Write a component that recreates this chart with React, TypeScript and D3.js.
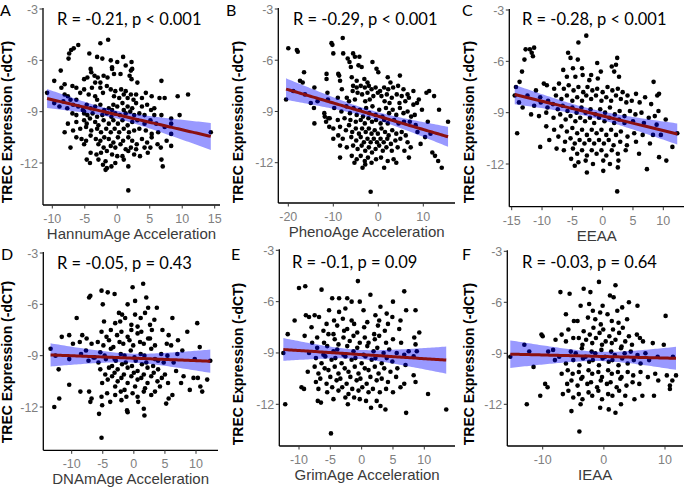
import React from 'react';
import * as d3 from 'd3';

type P = [number, number];

const yTicks = [-3, -6, -9, -12];
const panelLetters = ['A', 'B', 'C', 'D', 'E', 'F'];
const xTitles = ['HannumAge Acceleration', 'PhenoAge Acceleration', 'EEAA', 'DNAmAge Acceleration', 'GrimAge Acceleration', 'IEAA'];
const statLabels = ['R = -0.21, p < 0.001', 'R = -0.29, p < 0.001', 'R = -0.28, p < 0.001', 'R = -0.05, p = 0.43', 'R = -0.1, p = 0.09', 'R = -0.03, p = 0.64'];
const hannumTicks = [-10, -5, 0, 5, 10, 15];
const phenoTicks = [-20, -10, 0, 10];
const eeaaTicks = [-15, -10, -5, 0, 5, 10];
const dnamTicks = [-10, -5, 0, 5, 10];
const grimTicks = [-10, -5, 0, 5, 10];
const ieaaTicks = [-10, 0, 10];

const hannumPoints: P[] = [
  [-1.4,-4.8],[-2.6,-5.0],[-6.0,-5.1],[-6.7,-5.3],[-7.1,-5.4],[-7.4,-5.6],
  [-4.3,-5.6],[-7.5,-5.9],[0.9,-5.8],[-3.1,-5.8],[-2.3,-5.9],[-1.0,-6.0],[0.0,-6.1],[2.2,-6.1],[1.3,-6.3],[-0.8,-6.4],
  [-8.7,-6.6],[-4.1,-6.5],[-0.8,-6.5],[2.1,-6.6],[2.3,-6.5],[-4.0,-6.7],[-3.5,-6.9],[-3.0,-7.0],[-2.1,-6.9],[-1.5,-7.0],[-5.1,-7.1],[-4.6,-7.0],[-9.7,-7.2],[1.9,-6.9],[0.5,-6.8],[-0.5,-6.8],[6.8,-7.2],[2.2,-7.1],[3.1,-7.3],[-3.4,-7.3],[-2.6,-7.3],
  [-8.1,-7.4],[-6.9,-7.5],[-6.3,-7.6],[-5.1,-7.7],[-3.9,-7.6],[-2.6,-7.6],[-1.6,-7.5],[-1.0,-7.7],[-0.3,-7.8],[0.6,-7.7],[1.3,-7.8],[2.1,-8.0],[2.9,-8.0],[4.4,-7.9],[5.3,-8.1],[6.5,-8.2],[7.3,-8.2],[9.3,-8.1],[10.9,-8.0],[-10.8,-7.9],[-8.6,-7.6],[-8.1,-8.0],[-7.6,-8.1],[-5.7,-7.9],[-4.4,-8.0],[-3.4,-8.1],[-2.2,-7.9],[-0.5,-8.1],[0.3,-8.2],[1.0,-8.0],[1.6,-8.2],[2.5,-8.3],[3.8,-8.2],[-7.2,-8.3],[-6.3,-8.3],[-3.1,-8.3],
  [-9.7,-8.5],[-8.9,-8.7],[-8.3,-8.4],[-7.7,-8.8],[-6.8,-8.6],[-6.0,-8.7],[-5.3,-8.9],[-4.7,-8.6],[-4.1,-8.8],[-3.4,-8.7],[-2.6,-8.6],[-2.0,-8.9],[-1.3,-8.8],[-0.6,-8.6],[0.0,-8.7],[0.8,-8.5],[1.6,-8.7],[2.3,-8.8],[2.9,-8.5],[3.8,-8.7],[4.6,-8.6],[5.2,-8.9],[5.7,-8.8],[-6.9,-9.1],[-6.3,-9.2],[-5.1,-9.1],[-4.6,-9.2],[-3.8,-9.1],[-3.1,-9.3],[-2.3,-9.2],[-1.6,-9.1],[-0.9,-9.3],[-0.3,-9.1],[0.4,-9.2],[1.3,-9.1],[2.0,-9.0],[2.6,-9.2],[3.4,-9.1],[4.2,-9.2],[5.7,-9.2],[6.8,-9.2],[8.3,-9.4],[9.6,-9.2],[-5.1,-9.0],[-0.8,-8.9],[1.0,-8.9],
  [-7.6,-9.7],[-6.3,-9.6],[-5.1,-9.5],[-4.2,-9.4],[-3.4,-9.6],[-2.9,-9.8],[-2.1,-9.5],[-1.3,-9.7],[-0.6,-9.5],[0.1,-9.7],[0.8,-9.5],[1.6,-9.8],[2.3,-9.6],[3.1,-9.5],[4.2,-9.7],[5.1,-9.5],[6.0,-9.7],[7.3,-9.9],[8.3,-9.7],[-8.1,-10.2],[-6.8,-10.1],[-5.7,-10.0],[-4.8,-9.9],[-4.0,-10.1],[-3.1,-10.0],[-2.5,-10.2],[-1.7,-10.0],[-1.0,-10.2],[-0.4,-10.0],[0.3,-10.2],[1.0,-10.0],[1.8,-10.2],[2.6,-10.1],[3.4,-10.0],[4.4,-10.1],[5.3,-10.3],[6.3,-10.2],[8.3,-10.3],[14.4,-10.2],[-4.7,-9.7],
  [-6.3,-10.5],[-5.5,-10.6],[-4.8,-10.7],[-4.1,-10.4],[-3.3,-10.6],[-2.6,-10.7],[-2.0,-10.5],[-1.3,-10.6],[-0.6,-10.8],[0.1,-10.5],[0.9,-10.7],[1.7,-10.5],[2.3,-10.7],[3.0,-10.9],[3.8,-10.6],[4.6,-10.8],[5.3,-10.5],[6.2,-10.9],[7.6,-10.7],[8.3,-11.0],[-7.2,-11.1],[-5.1,-10.9],[-2.9,-10.9],[-2.1,-11.1],[-1.0,-11.0],[-0.3,-11.1],[0.5,-10.9],[1.3,-11.2],[2.1,-11.1],[2.9,-11.2],[4.2,-11.1],[5.1,-11.1],[6.7,-11.1],
  [-4.1,-11.4],[-3.2,-11.5],[-2.5,-11.4],[-1.6,-11.3],[-0.8,-11.5],[0.0,-11.6],[0.8,-11.6],[1.7,-11.3],[2.6,-11.5],[3.5,-11.6],[4.7,-11.4],[-4.7,-11.8],[-2.9,-11.8],[-1.8,-11.9],[-0.3,-12.0],[1.0,-11.8],[6.8,-11.8],[7.0,-12.2],[-4.2,-12.0],[-2.2,-12.1],[-0.9,-12.2],
  [-1.8,-12.4],[-1.6,-12.3],[1.7,-12.2],[1.7,-13.6],
];

const phenoPoints: P[] = [
  [-20.0,-5.3],[-18.1,-5.4],[-17.9,-5.5],[-10.4,-5.0],[-10.2,-5.1],[-7.9,-4.7],[-10.0,-5.6],[-7.8,-5.6],[-5.6,-5.6],[-5.2,-5.8],[-6.8,-5.9],[-4.2,-5.8],[-6.4,-6.1],[-1.3,-6.1],[-6.1,-6.4],[-4.4,-6.3],[-3.7,-6.4],[-0.4,-6.5],[0.0,-6.7],[4.8,-6.9],[-16.5,-6.7],[-11.5,-6.8],[-8.9,-6.8],[-8.7,-6.9],[-8.5,-7.2],[-5.9,-7.0],[-4.8,-7.2],[-3.1,-7.1],[-2.4,-7.3],[2.1,-7.0],[2.7,-7.3],[-11.5,-7.1],[-17.4,-7.2],
  [-5.6,-7.5],[-4.8,-7.6],[-3.9,-7.5],[-3.0,-7.6],[-2.1,-7.5],[-1.5,-7.7],[-0.6,-7.6],[0.4,-7.8],[1.3,-7.6],[2.2,-7.7],[3.3,-7.6],[4.4,-7.5],[5.6,-7.7],[6.5,-8.0],[7.8,-7.8],[10.7,-7.9],[-5.7,-7.8],[-4.6,-7.9],[-3.6,-8.0],[-2.4,-7.9],[-1.1,-8.1],[-0.1,-7.9],[0.7,-8.1],[1.9,-8.0],[3.0,-8.2],[4.1,-8.0],[5.2,-8.1],[6.8,-8.2],[9.0,-8.3],[11.3,-7.8],[-8.1,-7.7],[-11.3,-7.9],[-14.2,-7.6],
  [-20.5,-8.3],[-18.9,-7.8],[-16.3,-8.0],[-15.0,-8.5],[-16.8,-7.3],[-13.5,-8.4],[-11.2,-8.3],[-9.0,-8.2],[-7.0,-8.2],[-6.5,-8.4],[-5.2,-8.3],[-2.9,-8.4],[-1.9,-8.3],[1.4,-8.4],[2.5,-8.5],[4.7,-8.5],[6.0,-8.4],[7.8,-8.6],[8.6,-8.5],[12.4,-8.1],
  [-14.3,-8.8],[-12.0,-9.1],[-9.8,-8.8],[-8.2,-9.0],[-7.1,-8.7],[-6.3,-9.1],[-5.5,-8.8],[-4.8,-9.2],[-4.1,-8.9],[-3.4,-9.3],[-2.7,-8.8],[-2.0,-9.1],[-1.3,-8.7],[-0.6,-9.2],[0.2,-8.9],[0.9,-9.3],[1.7,-8.8],[2.4,-9.1],[3.2,-8.9],[4.0,-9.2],[4.8,-8.8],[5.6,-9.1],[6.5,-9.0],[7.3,-9.3],[8.1,-9.2],[9.7,-8.9],[13.5,-8.9],[15.5,-9.6],[-10.8,-9.4],[-9.0,-9.5],[-7.5,-9.4],[-6.2,-9.5],[-5.0,-9.6],[-3.9,-9.5],[-3.0,-9.7],[-2.2,-9.4],[-1.4,-9.6],[-0.5,-9.5],[0.5,-9.7],[1.3,-9.5],[2.1,-9.7],[3.5,-9.5],[4.5,-9.7],[5.7,-9.6],[7.0,-9.6],[8.3,-9.8],[11.0,-9.6],
  [-14.2,-9.7],[-11.9,-9.3],[-11.6,-9.6],[-11.1,-9.4],[-10.9,-9.9],[-10.0,-10.0],[-8.5,-9.9],[-7.2,-10.1],[-6.5,-9.8],[-5.8,-10.2],[-5.0,-10.0],[-4.3,-10.3],[-3.6,-10.0],[-2.8,-10.2],[-2.1,-10.0],[-1.5,-10.3],[-0.8,-10.1],[-0.1,-10.3],[0.7,-10.0],[1.5,-10.2],[2.3,-10.4],[3.1,-10.1],[4.0,-10.3],[5.2,-10.2],[6.1,-10.4],[8.7,-10.2],[10.4,-10.5],[11.6,-10.3],[-10.0,-10.6],[-8.9,-10.4],[-7.9,-10.6],[-6.0,-10.5],[-4.9,-10.7],[-3.9,-10.5],[-3.2,-10.8],[-2.4,-10.6],[-1.7,-10.8],[-1.0,-10.6],[-0.3,-10.8],[0.5,-10.6],[1.2,-10.8],[2.0,-10.6],[2.8,-10.9],[3.8,-10.7],[4.9,-10.6],[6.5,-10.8],[9.4,-10.9],
  [-8.5,-11.0],[-7.0,-11.1],[-5.6,-11.0],[-4.6,-11.2],[-3.7,-11.0],[-2.9,-11.3],[-2.1,-11.1],[-1.4,-11.4],[-0.6,-11.2],[0.2,-11.0],[1.0,-11.3],[1.8,-11.1],[3.0,-11.3],[4.3,-11.1],[5.8,-11.3],[7.2,-11.1],[12.0,-11.4],[12.6,-11.6],[-8.5,-11.7],[-5.9,-11.6],[-4.8,-11.8],[-3.9,-11.6],[-3.0,-11.9],[-2.3,-11.7],[-1.5,-12.0],[-0.5,-11.8],[0.6,-11.7],[2.1,-11.9],[3.4,-11.8],[6.8,-11.7],[13.3,-11.9],[-5.3,-12.0],[-3.5,-12.3],[-2.9,-12.1],[1.3,-12.3],[4.0,-12.0],[14.1,-12.3],[-1.7,-13.7],
];

const eeaaPoints: P[] = [
  [-12.7,-5.3],[-12.0,-5.3],[-11.7,-5.5],[-11.3,-5.2],[-11.5,-5.7],[-12.9,-5.9],[-2.7,-4.5],[-4.0,-4.9],[-5.7,-5.5],[-5.3,-5.8],[-4.1,-5.9],[2.4,-5.8],[-0.9,-6.1],[-13.3,-6.6],[-6.5,-6.5],[-4.9,-6.4],[-3.4,-6.4],[-3.3,-6.8],[-1.9,-6.8],[1.5,-6.3],[2.2,-6.2],[1.9,-6.6],[-0.3,-6.6],[-4.5,-6.9],[-2.2,-7.1],[-0.8,-7.0],[-5.9,-6.9],[-9.7,-7.3],[-13.7,-7.2],[2.7,-6.9],[8.4,-7.2],[9.3,-7.9],
  [-14.3,-7.5],[-11.0,-7.7],[-9.2,-7.4],[-8.0,-7.6],[-7.2,-7.3],[-6.4,-7.6],[-5.6,-7.4],[-4.8,-7.7],[-4.0,-7.5],[-3.2,-7.8],[-2.5,-7.5],[-1.7,-7.7],[-0.9,-7.6],[0.0,-7.8],[0.8,-7.5],[1.6,-7.7],[2.5,-7.6],[3.3,-7.8],[4.1,-8.0],[5.5,-7.9],[7.0,-8.1],[9.0,-8.0],[-12.4,-8.0],[-10.3,-8.1],[-9.0,-8.3],[-7.7,-8.0],[-6.8,-8.2],[-5.9,-8.0],[-5.0,-8.3],[-4.2,-8.1],[-3.4,-8.3],[-2.7,-8.0],[-1.9,-8.2],[-1.1,-8.0],[-0.2,-8.3],[0.6,-8.1],[1.4,-8.3],[2.2,-8.0],[3.0,-8.2],[3.9,-8.4],[4.8,-8.3],[6.1,-8.4],[8.0,-8.5],
  [-14.5,-8.0],[-13.8,-8.4],[-13.2,-8.7],[-11.3,-8.6],[-10.2,-8.4],[-9.1,-8.7],[-8.2,-8.5],[-7.4,-8.8],[-6.6,-8.6],[-5.8,-8.9],[-5.0,-8.7],[-4.3,-9.0],[-3.5,-8.7],[-2.8,-9.0],[-2.0,-8.8],[-1.2,-9.1],[-0.4,-8.8],[0.4,-9.0],[1.2,-8.7],[2.0,-9.1],[2.8,-8.9],[3.6,-9.2],[4.5,-8.9],[5.4,-9.1],[6.4,-9.0],[7.6,-9.3],[8.6,-9.2],[9.2,-8.9],[10.4,-9.4],[-11.8,-9.1],[-10.5,-9.2],[-9.3,-9.0],[-8.1,-9.3],[-7.0,-9.1],[-6.1,-9.4],[-5.3,-9.2],[-4.5,-9.5],[-3.7,-9.3],[-2.9,-9.5],[-2.1,-9.3],[-1.4,-9.6],[-0.6,-9.3],[0.3,-9.5],[1.1,-9.3],[1.9,-9.6],[2.7,-9.4],[3.6,-9.6],[5.0,-9.5],[6.8,-9.6],[8.9,-9.7],
  [-14.1,-10.2],[-9.3,-9.8],[-8.0,-10.0],[-6.8,-9.8],[-5.9,-10.1],[-5.0,-9.9],[-4.2,-10.2],[-3.4,-10.0],[-2.6,-10.3],[-1.8,-10.0],[-1.0,-10.2],[-0.2,-10.0],[0.6,-10.3],[1.4,-10.0],[2.2,-10.3],[3.0,-10.1],[4.1,-10.4],[5.2,-10.2],[6.6,-10.3],[8.3,-10.3],[9.6,-10.3],[12.3,-10.2],[-8.8,-10.6],[-7.3,-10.4],[-6.2,-10.7],[-5.3,-10.5],[-4.6,-10.8],[-3.8,-10.6],[-3.0,-10.8],[-2.2,-10.6],[-1.4,-10.8],[-0.6,-10.6],[0.2,-10.8],[1.0,-10.6],[1.8,-10.9],[2.9,-10.7],[4.0,-10.9],[5.5,-10.7],[7.8,-10.8],[11.5,-11.0],[-10.3,-11.0],
  [-7.6,-11.1],[-6.4,-11.2],[-4.9,-11.1],[-4.2,-11.4],[-3.4,-11.2],[-2.6,-11.5],[-1.8,-11.2],[-1.0,-11.4],[-0.2,-11.2],[0.6,-11.5],[1.5,-11.2],[2.5,-11.4],[3.8,-11.2],[6.0,-11.4],[9.3,-11.6],[10.5,-11.8],[-5.2,-11.7],[-4.0,-11.9],[-2.8,-11.8],[-1.6,-12.0],[0.1,-11.8],[1.2,-12.0],[2.6,-11.8],[7.3,-12.3],[-2.6,-12.5],[0.1,-12.4],[2.5,-12.2],[2.4,-13.6],[-4.6,-12.1],
];

const dnamPoints: P[] = [
  [-4.2,-5.3],[-5.2,-5.2],[-7.0,-5.5],[-7.2,-5.6],[-3.1,-5.4],[-0.2,-5.0],[1.5,-4.8],[2.0,-5.6],[3.7,-6.2],[0.2,-5.8],[-1.0,-6.0],[-5.0,-6.0],[-9.2,-6.8],[-2.4,-6.5],[-1.9,-6.6],[-1.4,-6.8],[0.2,-6.6],[1.1,-6.8],[1.8,-6.5],[2.3,-6.2],[6.2,-6.8],[-4.8,-7.0],[-3.0,-7.1],[-0.4,-7.2],[0.6,-7.3],[2.6,-7.2],[3.3,-6.9],[-2.2,-7.0],
  [-10.4,-7.8],[-11.6,-7.9],[-8.3,-7.8],[-7.6,-8.0],[-5.2,-7.6],[-4.4,-7.9],[-3.7,-7.5],[-2.7,-7.8],[-2.0,-7.6],[-1.0,-7.9],[-0.4,-7.5],[0.6,-7.7],[1.2,-7.6],[2.3,-8.0],[2.9,-7.5],[4.6,-7.5],[5.6,-7.8],[8.6,-7.6],[10.2,-7.1],[-9.8,-8.3],[-8.7,-8.2],[-6.8,-8.3],[-5.8,-8.2],[-4.9,-8.4],[-4.0,-8.1],[-3.3,-8.5],[-2.3,-8.2],[-1.7,-8.3],[-0.7,-8.1],[-0.1,-8.4],[1.0,-8.2],[1.6,-8.3],[2.6,-8.0],[3.4,-8.4],[5.3,-8.3],[6.0,-8.4],[7.1,-8.1],[10.6,-8.5],
  [-13.4,-8.6],[-12.6,-9.0],[-8.5,-8.9],[-7.7,-8.7],[-6.3,-9.1],[-5.4,-8.8],[-4.7,-9.0],[-3.7,-8.6],[-3.1,-9.2],[-2.1,-8.9],[-1.5,-9.0],[-0.5,-8.7],[0.1,-9.1],[1.1,-8.9],[1.7,-9.0],[2.8,-8.6],[3.4,-9.2],[4.4,-8.9],[5.4,-9.0],[7.0,-8.9],[7.8,-8.7],[-10.4,-9.2],[-7.3,-9.3],[-6.5,-9.1],[-5.7,-9.4],[-4.5,-9.2],[-3.5,-9.6],[-2.9,-9.3],[-1.9,-9.5],[-1.3,-9.4],[-0.3,-9.6],[0.3,-9.3],[1.3,-9.5],[2.0,-9.4],[3.1,-9.6],[3.9,-9.3],[4.8,-9.4],[6.4,-9.4],[9.8,-9.2],[12.3,-9.3],[-12.1,-9.8],
  [-5.4,-9.8],[-4.6,-10.1],[-4.0,-9.7],[-3.1,-10.0],[-2.6,-9.8],[-1.6,-10.1],[-1.0,-9.7],[0.0,-10.0],[0.6,-9.9],[1.6,-10.1],[2.2,-9.7],[3.2,-10.0],[3.9,-9.8],[5.0,-10.1],[6.8,-9.9],[8.0,-10.2],[-4.2,-10.4],[-3.5,-10.2],[-2.6,-10.5],[-2.0,-10.3],[-1.0,-10.6],[-0.4,-10.2],[0.6,-10.4],[1.2,-10.3],[2.2,-10.6],[2.8,-10.2],[3.8,-10.5],[4.5,-10.3],[5.5,-10.6],[7.6,-10.6],[9.6,-10.3],[10.3,-10.3],[10.7,-10.8],[11.8,-10.4],[-10.4,-10.7],[-5.1,-10.6],[-3.0,-10.8],[-1.5,-11.0],[0.2,-10.8],[1.8,-10.9],[4.2,-10.8],[9.0,-11.0],[11.0,-11.1],
  [-8.6,-11.1],[-7.2,-11.1],[-6.8,-11.5],[-5.2,-11.4],[-4.3,-11.2],[-3.0,-11.3],[-2.1,-11.1],[-1.2,-11.4],[-0.2,-11.2],[0.6,-11.4],[1.6,-11.1],[2.8,-11.3],[3.4,-11.1],[5.6,-11.5],[6.2,-11.3],[-12.0,-11.5],[-12.8,-12.0],[-7.0,-11.7],[-5.1,-11.9],[-3.8,-11.7],[-1.1,-12.2],[-1.0,-12.3],[1.6,-12.1],[1.7,-12.5],[5.2,-11.8],[-5.6,-12.4],[-5.2,-13.8],[-2.0,-11.6],[0.7,-11.7],
];

const grimPoints: P[] = [
  [-10.0,-5.2],[-9.0,-5.1],[-6.4,-5.3],[-0.6,-4.8],[1.4,-5.6],[6.8,-5.4],[-4.7,-5.8],[-3.6,-5.8],[-2.3,-5.8],[-1.6,-6.0],[-0.3,-6.0],[3.0,-6.3],[5.0,-6.0],[7.1,-6.5],[8.6,-6.5],[-8.9,-6.8],[-8.4,-6.9],[-7.5,-6.8],[-6.8,-6.9],[-5.2,-6.5],[-3.6,-6.6],[-2.6,-6.4],[0.3,-6.5],[2.2,-6.8],[4.0,-6.7],[4.9,-6.9],[-4.4,-7.1],[-3.0,-7.0],[-1.6,-7.1],[2.8,-7.1],[6.2,-7.1],[-10.7,-7.1],
  [-11.8,-7.9],[-8.0,-7.5],[-6.1,-7.7],[-5.6,-7.3],[-4.5,-7.9],[-3.9,-7.4],[-2.8,-7.7],[-2.3,-7.6],[-1.2,-7.3],[-0.7,-7.8],[0.4,-7.5],[0.9,-7.2],[2.0,-7.9],[2.6,-7.4],[3.7,-7.7],[4.2,-7.3],[6.0,-7.6],[9.2,-7.8],
  [-9.1,-8.0],[-7.9,-8.4],[-7.1,-8.1],[-6.0,-8.4],[-5.3,-7.9],[-4.3,-8.2],[-3.7,-8.5],[-2.9,-8.1],[-1.9,-8.3],[-1.3,-8.0],[-0.3,-8.4],[0.5,-8.1],[1.1,-8.4],[2.1,-8.2],[2.8,-8.0],[3.9,-8.4],[5.0,-8.2],[6.3,-8.4],[8.4,-8.1],[8.6,-8.5],
  [-8.4,-9.0],[-7.1,-8.7],[-6.1,-9.1],[-5.5,-8.6],[-4.5,-8.9],[-3.9,-8.8],[-2.9,-9.1],[-2.3,-8.6],[-1.3,-8.9],[-0.7,-8.7],[0.3,-9.1],[0.9,-8.6],[1.9,-8.9],[2.5,-8.7],[3.5,-9.0],[4.4,-8.8],[5.6,-9.0],[6.8,-9.1],[7.5,-8.9],[8.8,-8.9],
  [-7.3,-9.3],[-6.4,-9.6],[-5.8,-9.2],[-4.8,-9.4],[-4.2,-9.3],[-3.2,-9.6],[-2.6,-9.2],[-1.6,-9.4],[-1.0,-9.3],[0.0,-9.6],[0.6,-9.2],[1.6,-9.4],[2.2,-9.3],[3.2,-9.6],[4.0,-9.3],[4.9,-9.5],[7.0,-9.7],[8.3,-9.2],[-12.5,-9.0],
  [-8.6,-10.1],[-7.5,-9.8],[-6.9,-10.2],[-5.9,-9.9],[-5.3,-10.0],[-4.3,-9.8],[-3.7,-10.2],[-2.7,-9.9],[-2.1,-10.1],[-1.1,-9.8],[-0.5,-10.2],[0.5,-9.9],[1.1,-10.0],[2.1,-9.8],[2.7,-10.2],[3.6,-9.9],[4.6,-10.1],[5.7,-9.9],[8.3,-10.3],[-9.2,-11.1],[-9.6,-11.0],
  [-7.3,-10.7],[-6.6,-10.5],[-5.6,-10.8],[-5.0,-10.4],[-4.0,-10.6],[-3.4,-10.5],[-2.4,-10.8],[-1.8,-10.4],[-0.8,-10.6],[-0.2,-10.5],[0.8,-10.8],[1.4,-10.4],[2.4,-10.6],[3.2,-10.5],[4.2,-10.7],[5.5,-10.4],[6.8,-10.8],[8.6,-10.7],
  [-6.9,-11.1],[-5.5,-11.3],[-4.7,-11.0],[-3.7,-11.2],[-3.1,-11.0],[-2.1,-11.4],[-1.5,-11.1],[-0.5,-11.2],[0.1,-11.0],[1.1,-11.3],[1.8,-11.1],[2.9,-11.3],[3.9,-11.1],[5.0,-11.3],[6.2,-11.0],[10.6,-11.4],[-7.0,-11.8],[-6.5,-11.9],[-4.5,-11.7],[-2.6,-11.6],[-1.2,-11.6],[-0.3,-11.7],[0.7,-11.8],[2.4,-11.8],[3.0,-12.1],[3.8,-12.3],[7.1,-12.5],[-12.2,-12.0],[13.5,-12.3],[-4.9,-13.7],[-2.2,-12.0],[1.5,-12.2],
];

const ieaaPoints: P[] = [
  [-7.1,-5.4],[-5.6,-5.5],[-3.3,-5.2],[-2.2,-5.4],[-0.8,-4.8],[1.9,-5.0],[1.0,-5.6],[1.6,-5.7],[5.5,-6.2],[4.1,-6.0],[-3.8,-6.2],[-2.4,-6.1],[-0.2,-6.2],[2.2,-6.5],[3.0,-6.3],[0.6,-6.7],[-1.8,-6.5],[-0.6,-6.6],[-4.9,-7.1],[-4.3,-7.1],[-6.2,-6.7],[-2.6,-6.9],[-1.4,-7.0],[-0.5,-7.3],[1.3,-7.1],[2.4,-7.2],[3.8,-7.0],[10.1,-6.8],[-10.2,-7.9],[-10.0,-8.0],
  [-6.9,-7.9],[-5.8,-7.6],[-4.1,-8.1],[-3.3,-7.7],[-2.3,-7.9],[-1.7,-7.5],[-0.7,-7.8],[-0.1,-7.6],[0.9,-8.0],[1.5,-7.6],[2.5,-7.8],[3.1,-7.5],[4.1,-8.0],[5.4,-7.9],[5.9,-8.1],
  [-7.9,-8.2],[-6.2,-8.3],[-5.0,-8.1],[-3.5,-8.5],[-2.9,-8.2],[-1.9,-8.4],[-1.3,-8.1],[-0.3,-8.5],[0.3,-8.3],[1.3,-8.4],[1.9,-8.2],[2.9,-8.6],[3.5,-8.3],[4.6,-8.5],[6.4,-8.3],[8.0,-8.4],[9.8,-8.5],[-13.0,-8.5],
  [-15.3,-9.2],[-12.2,-8.9],[-9.1,-8.9],[-8.3,-8.8],[-7.3,-9.2],[-5.4,-8.9],[-4.6,-9.0],[-3.6,-8.7],[-3.0,-9.2],[-2.0,-8.9],[-1.4,-9.0],[-0.4,-8.8],[0.2,-9.2],[1.2,-8.9],[1.8,-9.1],[2.8,-8.7],[3.4,-9.0],[4.4,-8.9],[5.5,-9.1],[6.8,-9.0],[8.8,-9.2],[11.3,-9.2],
  [-11.5,-9.8],[-8.0,-9.4],[-6.2,-9.6],[-5.0,-9.4],[-4.0,-9.7],[-3.4,-9.3],[-2.4,-9.5],[-1.8,-9.4],[-0.8,-9.7],[-0.2,-9.3],[0.8,-9.5],[1.4,-9.4],[2.4,-9.7],[3.0,-9.3],[3.9,-9.6],[4.9,-9.4],[6.0,-9.6],[7.4,-9.4],
  [-9.6,-10.8],[-9.2,-11.0],[-6.9,-10.2],[-5.9,-10.0],[-5.1,-10.2],[-4.1,-10.1],[-3.5,-10.4],[-2.5,-10.0],[-1.9,-10.2],[-0.9,-10.1],[-0.3,-10.4],[0.7,-10.0],[1.3,-10.2],[2.3,-10.1],[2.9,-10.4],[3.9,-10.1],[4.8,-10.3],[6.0,-10.1],[7.2,-10.4],[8.4,-10.2],[10.3,-10.3],[11.8,-10.3],
  [-6.0,-10.8],[-5.3,-10.6],[-4.3,-10.9],[-3.7,-10.5],[-2.7,-10.8],[-2.1,-10.7],[-1.1,-11.0],[-0.5,-10.6],[0.5,-10.8],[1.1,-10.7],[2.1,-11.0],[2.7,-10.5],[3.7,-10.9],[4.7,-10.7],[5.8,-10.8],[8.9,-10.6],[10.8,-10.9],[11.2,-10.6],
  [-6.7,-11.4],[-5.8,-11.2],[-5.0,-11.6],[-4.1,-11.4],[-3.5,-11.7],[-2.5,-11.3],[-1.9,-11.5],[-0.9,-11.2],[-0.3,-11.7],[0.7,-11.4],[1.4,-11.5],[2.5,-11.2],[3.5,-11.5],[5.0,-11.7],[6.3,-11.5],[8.2,-11.5],[-10.4,-11.5],[-12.6,-12.0],[-5.3,-12.4],[-3.8,-12.0],[-0.6,-12.2],[0.8,-12.3],[1.9,-12.5],[2.8,-12.0],[-4.0,-13.6],[10.8,-11.1],
];

const pointSets = [hannumPoints, phenoPoints, eeaaPoints, dnamPoints, grimPoints, ieaaPoints];
const tickSets = [hannumTicks, phenoTicks, eeaaTicks, dnamTicks, grimTicks, ieaaTicks];

// layout (pixels) per panel
const layouts = [
  { axisX: 43, axisEnd: 220, axisY: 205, xa: [-10, 52.3], xb: [15, 214.7], yTop: 9, yBot: 163, titleX: 11.5, titleCY: 122, letterX: 0, letterY: 16, statX: 57, statY: 25 },
  { axisX: 278.3, axisEnd: 455, axisY: 203, xa: [-20, 288.3], xb: [10, 423.3], yTop: 9, yBot: 162.7, titleX: 242.5, titleCY: 122, letterX: 226, letterY: 16, statX: 293, statY: 25 },
  { axisX: 509.3, axisEnd: 684, axisY: 206.7, xa: [-15, 511.7], xb: [10, 663.3], yTop: 10, yBot: 164, titleX: 473.5, titleCY: 122, letterX: 462, letterY: 16, statX: 522, statY: 25 },
  { axisX: 43.3, axisEnd: 218, axisY: 450.3, xa: [-10, 71.7], xb: [10, 196], yTop: 253, yBot: 407, titleX: 11.5, titleCY: 362, letterX: 1, letterY: 260, statX: 57, statY: 269 },
  { axisX: 279.3, axisEnd: 455, axisY: 446, xa: [-10, 299], xb: [10, 424.3], yTop: 250.3, yBot: 404.3, titleX: 242.5, titleCY: 364, letterX: 231, letterY: 260, statX: 292, statY: 268 },
  { axisX: 507.3, axisEnd: 683, axisY: 446, xa: [-10, 542.7], xb: [10, 665], yTop: 251.3, yBot: 404.3, titleX: 473.5, titleCY: 364, letterX: 462, letterY: 260, statX: 522, statY: 268 },
];

function linearFit(pts: P[]) {
  const n = pts.length;
  const mx = d3.mean(pts, (p) => p[0])!;
  const my = d3.mean(pts, (p) => p[1])!;
  const sxx = d3.sum(pts, (p) => (p[0] - mx) ** 2);
  const sxy = d3.sum(pts, (p) => (p[0] - mx) * (p[1] - my));
  const b = sxy / sxx;
  const a = my - b * mx;
  const sse = d3.sum(pts, (p) => (p[1] - (a + b * p[0])) ** 2);
  const s = Math.sqrt(sse / (n - 2));
  const t = 1.97;
  const [x0, x1] = d3.extent(pts, (p) => p[0]) as [number, number];
  const xs = d3.range(81).map((i) => x0 + ((x1 - x0) * i) / 80);
  return xs.map((x) => {
    const yh = a + b * x;
    const hw = t * s * Math.sqrt(1 / n + (x - mx) ** 2 / sxx);
    return { x, y: yh, lo: yh - hw, hi: yh + hw };
  });
}

const Panel: React.FC<{ i: number }> = ({ i }) => {
  const L = layouts[i];
  const pts = pointSets[i];
  const ticks = tickSets[i];
  const x = d3.scaleLinear().domain([L.xa[0], L.xb[0]]).range([L.xa[1], L.xb[1]]);
  const y = d3.scaleLinear().domain([-3, -12]).range([L.yTop, L.yBot]);
  const band = linearFit(pts);
  const area = d3.area<any>().x((d) => x(d.x)).y0((d) => y(d.lo)).y1((d) => y(d.hi));
  const line = d3.line<any>().x((d) => x(d.x)).y((d) => y(d.y));
  const tickColor = '#7f7f7f';
  const sans = "'Liberation Sans', Arial, sans-serif";
  return (
    <g>
      {pts.map((p, k) => (
        <circle key={k} cx={x(p[0])} cy={y(p[1])} r={2.3} fill="#000" />
      ))}
      <path d={area(band) || ''} fill="blue" fillOpacity={0.4} stroke="none" />
      <path d={line(band) || ''} fill="none" stroke="#8b1010" strokeWidth={3} />
      <line x1={L.axisX} x2={L.axisX} y1={L.yTop - 1} y2={L.axisY} stroke="#000" strokeWidth={1.3} />
      <line x1={L.axisX} x2={L.axisEnd} y1={L.axisY} y2={L.axisY} stroke="#000" strokeWidth={1.3} />
      {yTicks.map((t) => (
        <g key={'y' + t}>
          <line x1={L.axisX - 3.5} x2={L.axisX} y1={y(t)} y2={y(t)} stroke="#333" strokeWidth={1} />
          <text x={L.axisX - 5} y={y(t) + 4.5} textAnchor="end" fontFamily={sans} fontSize={12.5} fill={tickColor}>{t}</text>
        </g>
      ))}
      {ticks.map((t) => (
        <g key={'x' + t}>
          <line x1={x(t)} x2={x(t)} y1={L.axisY} y2={L.axisY + 3.5} stroke="#333" strokeWidth={1} />
          <text x={x(t)} y={L.axisY + 18} textAnchor="middle" fontFamily={sans} fontSize={12.5} fill={tickColor}>{t}</text>
        </g>
      ))}
      <text x={(L.axisX + L.axisEnd) / 2} y={L.axisY + 34} textAnchor="middle" fontFamily={sans} fontSize={15} fill="#3a3a3a">{xTitles[i]}</text>
      <text transform={`translate(${L.titleX},${L.titleCY}) rotate(-90)`} textAnchor="middle" fontFamily={sans} fontWeight="bold" fontSize={14} fill="#000">TREC Expression (-dCT)</text>
      <text x={L.statX} y={L.statY} fontFamily="Lato, 'Liberation Sans', sans-serif" fontSize={16.5} fill="#000">{statLabels[i]}</text>
      <text x={L.letterX} y={L.letterY} fontFamily="Lato, 'Liberation Sans', sans-serif" fontSize={16} fill="#000">{panelLetters[i]}</text>
    </g>
  );
};

export default function App() {
  return (
    <svg width={685} height={487} style={{ position: 'absolute', left: 0, top: 0, background: '#fff' }}>
      <rect width={685} height={487} fill="#fff" />
      {layouts.map((_, i) => (
        <Panel key={i} i={i} />
      ))}
    </svg>
  );
}
